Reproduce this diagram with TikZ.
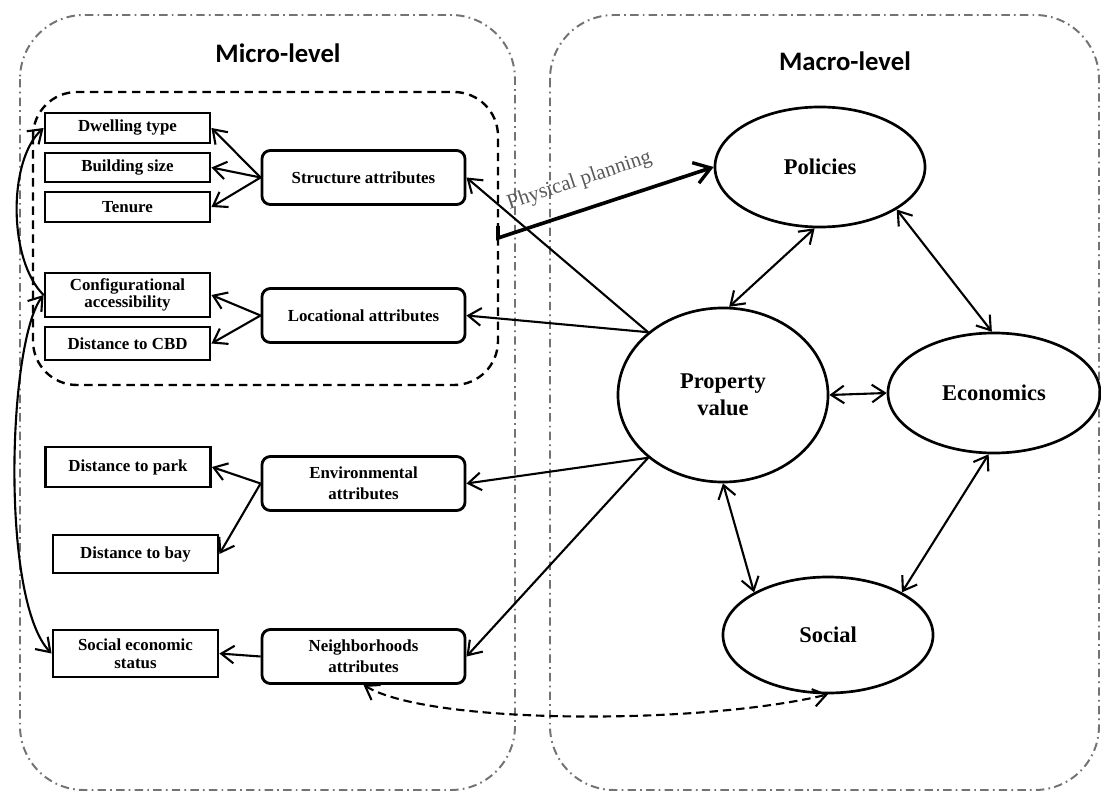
\documentclass[tikz,border=0pt]{standalone}
\usepackage{fontspec}
\setmainfont{Liberation Serif}
\newfontfamily\titlefont{Carlito}
\usetikzlibrary{shapes.geometric,arrows.meta,positioning}
\begin{document}
\begin{tikzpicture}[x=0.025cm,y=-0.025cm,
  container/.style={draw=black!55,line width=1.4pt,rounded corners=1.6cm,dash pattern=on 6pt off 3pt on 1.2pt off 3pt},
  inner/.style={draw=black,line width=1.7pt,rounded corners=1.1cm,dash pattern=on 6pt off 4pt},
  leaf/.style={draw,line width=2pt,minimum width=4.125cm,inner sep=1pt,align=center,font=\bfseries\fontsize{12}{12.5}\selectfont},
  attr/.style={draw,line width=2pt,rounded corners=6pt,minimum width=5.075cm,minimum height=1.35cm,inner sep=1pt,align=center,font=\bfseries\fontsize{12}{15}\selectfont},
  macro/.style={draw,ellipse,line width=1.9pt,inner sep=0pt,align=center,font=\bfseries\fontsize{16}{19}\selectfont},
  tip/.tip={Straight Barb[length=3.2mm,width=4.4mm,line width=1.5pt]},
  arr/.style={line width=1.5pt,-tip},
  darr/.style={line width=1.5pt,tip-tip},
  title/.style={font=\titlefont\bfseries\fontsize{19}{21}\selectfont}
]
\useasboundingbox (0,0) rectangle (1101,794);
% containers
\draw[container] (20,15) rectangle (515,790);
\draw[container] (550,15) rectangle (1099,790);
\draw[inner] (33,92) rectangle (498,385);
\node[title] (micro) at (278,53) {Micro-level};
\node[title] (macro) at (845,61) {Macro-level};
% leaf boxes
\node[leaf,minimum height=0.75cm] (dwell) at (127.5,128) {Dwelling type};
\node[leaf,minimum height=0.725cm] (build) at (127.5,167.5) {Building size};
\node[leaf,minimum height=0.75cm] (tenure) at (127.5,207) {Tenure};
\node[leaf,minimum height=1.1cm] (config) at (127.5,295) {Configurational\\accessibility};
\node[leaf,minimum height=0.825cm] (cbd) at (127.5,343.5) {Distance to CBD};
\node[leaf,minimum height=1.0cm] (park) at (128,467) {Distance to park};
\node[leaf,minimum height=0.95cm] (bay) at (135.5,554) {Distance to bay};
\node[leaf,minimum height=1.175cm] (ses) at (135.5,653.5) {Social economic\\status};
% attribute boxes
\node[attr] (struct) at (363.5,177.5) {Structure attributes};
\node[attr] (loc) at (363.5,315.5) {Locational attributes};
\node[attr] (env) at (363.5,483.5) {Environmental\\attributes};
\node[attr] (neigh) at (363.5,656.5) {Neighborhoods\\attributes};
% macro ellipses
\node[macro,minimum width=5.25cm,minimum height=3cm] (pol) at (820,167) {Policies};
\node[macro,minimum width=5.25cm,minimum height=4.35cm] (pv) at (723,395) {Property\\value};
\node[macro,minimum width=5.3cm,minimum height=3cm] (eco) at (994,393) {Economics};
\node[macro,minimum width=5.25cm,minimum height=2.9cm] (soc) at (828,635) {Social};
% attribute -> leaf arrows
\draw[arr] (struct.west) -- (dwell.east);
\draw[arr] (struct.west) -- (build.east);
\draw[arr] (struct.west) -- (tenure.east);
\draw[arr] (loc.west) -- (config.east);
\draw[arr] (loc.west) -- (cbd.east);
\draw[arr] (env.west) -- (park.east);
\draw[arr] (env.west) -- (bay.east);
\draw[arr] (neigh.west) -- (ses.east);
% property value -> attributes
\draw[arr] (pv.140) -- (struct.east);
\draw[arr] (pv.140) -- (loc.east);
\draw[arr] (pv.220) -- (env.east);
\draw[arr] (pv.220) -- (neigh.east);
% macro relations
\draw[darr] (pv.86) -- (pol.265);
\draw[darr] (pol.-29) -- (eco.92);
\draw[darr] (pv.east) -- (eco.west);
\draw[darr] (pv.south) -- (soc.150);
\draw[darr] (eco.265) -- (soc.30);
% physical planning
\coordinate (pp0) at (498,226);
\coordinate (pp) at (498,238);
\draw[line width=2.6pt,-{Straight Barb[length=4mm,width=5.4mm,line width=2.4pt]}] (pp0) -- (pp) -- (pol.west)
  node[pos=0.42,sloped,above=9pt,text=black!65,font=\fontsize{15}{17}\selectfont] (pplab) {Physical planning};
% dashed neighborhoods <-> social
\draw[darr,dash pattern=on 6pt off 3.5pt] (neigh.south) .. controls (430,725) and (700,725) .. (soc.south);
% left curves
\draw[arr] (config.west) .. controls (8,260) and (8,160) .. (dwell.west);
\draw[darr] (ses.west) .. controls (0,600) and (8,340) .. (config.west);
\end{tikzpicture}
\end{document}
